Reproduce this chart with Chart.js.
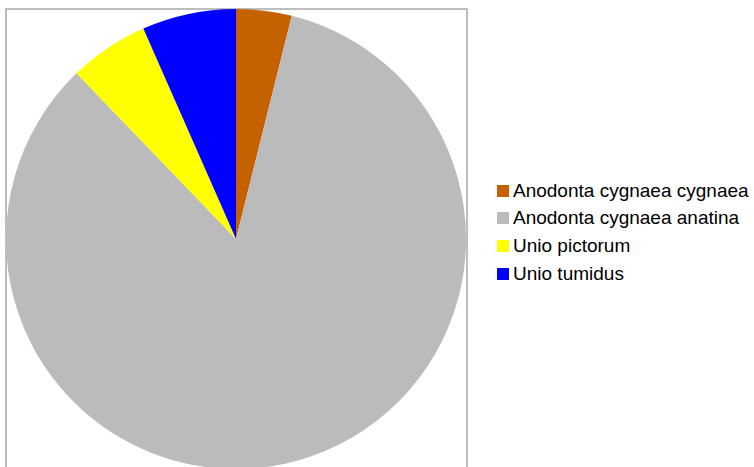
<!DOCTYPE html>
<html>
<head>
<meta charset="utf-8">
<script src="https://cdn.jsdelivr.net/npm/chart.js@4/dist/chart.umd.min.js"></script>
<style>
  html, body { margin: 0; padding: 0; background: #fff; overflow: hidden; }
  #wrap { position: relative; width: 754px; height: 467px; overflow: hidden; }
  #frame { position: absolute; left: 5px; top: 8px; width: 459px; height: 480px; border: 2px solid #bdbdbd; }
  #pieBox { position: absolute; left: 6px; top: 9px; width: 460px; height: 460px; }
  #legend { position: absolute; left: 497px; top: 177px; font-family: "Liberation Sans", Arial, sans-serif; font-size: 19px; color: #000; }
  #legend .row { height: 27.6px; display: flex; align-items: center; white-space: nowrap; }
  #legend .box { width: 12px; height: 12px; margin-right: 4px; }
</style>
</head>
<body>
<div id="wrap">
  <div id="frame"></div>
  <div id="pieBox"><canvas id="myChart" width="460" height="460"></canvas></div>
  <div id="legend"></div>
</div>
<script>
  let labels = ['Anodonta cygnaea cygnaea', 'Anodonta cygnaea anatina', 'Unio pictorum', 'Unio tumidus'];
  let shares = [3.9, 83.9, 5.6, 6.6];
  let colors = ['#C56100', '#BBBBBB', '#FFFF00', '#0000FF'];

  let ctx = document.getElementById('myChart');
  let myChart = new Chart(ctx, {
    type: 'pie',
    data: {
      labels: labels,
      datasets: [
        {
          data: shares,
          backgroundColor: colors,
          borderWidth: 0
        }
      ]
    },
    options: {
      responsive: false,
      animation: false,
      devicePixelRatio: 1,
      layout: { padding: 0 },
      plugins: {
        legend: { display: false },
        tooltip: { enabled: false }
      }
    }
  });

  // legend built from the chart's own data
  let str = '';
  myChart.data.labels.forEach(function(label, index) {
    str += '<div class="row">'
          + '<div class="box" style="background:' + myChart.data.datasets[0].backgroundColor[index] + '"></div>'
          + '<span>' + label + '</span>'
        + '</div>';
  });
  document.getElementById('legend').innerHTML = str;
</script>
</body>
</html>
